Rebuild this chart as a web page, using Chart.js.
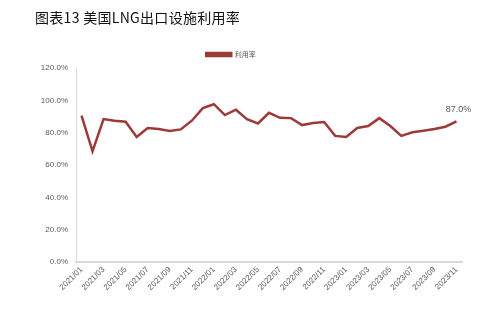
<!DOCTYPE html>
<html>
<head>
<meta charset="utf-8">
<script src="https://cdn.jsdelivr.net/npm/chart.js@4.4.0/dist/chart.umd.min.js"></script>
<style>
  html, body { margin: 0; padding: 0; background: #fff; }
  #wrap { position: relative; width: 496px; height: 324px; }
  #title {
    position: absolute; left: 35px; top: 7px;
    font-family: "Noto Sans CJK SC", sans-serif; font-size: 14px; color: #111;
    letter-spacing: 0.3px;
  }
  #chart { position: absolute; left: 0; top: 0; }
</style>
</head>
<body>
<div id="wrap">
  <canvas id="chart" width="496" height="324"></canvas>
  <div id="title">图表13 美国LNG出口设施利用率</div>
</div>
<script>
// monthly utilisation of US LNG export facilities, 2021/01 - 2023/11
const months = [
  '2021/01','2021/02','2021/03','2021/04','2021/05','2021/06','2021/07','2021/08','2021/09','2021/10','2021/11','2021/12',
  '2022/01','2022/02','2022/03','2022/04','2022/05','2022/06','2022/07','2022/08','2022/09','2022/10','2022/11','2022/12',
  '2023/01','2023/02','2023/03','2023/04','2023/05','2023/06','2023/07','2023/08','2023/09','2023/10','2023/11'
];
const utilization = [
  90.5, 68.5, 88.4, 87.4, 86.8, 77.3, 82.9, 82.3, 81.0, 82.0, 87.4, 95.2,
  97.6, 90.9, 94.2, 88.4, 85.7, 92.3, 89.2, 89.0, 84.7, 86.0, 86.6, 78.0,
  77.3, 82.9, 84.1, 89.0, 84.1, 78.0, 80.2, 81.2, 82.3, 83.7, 87.0
];
const yTicks = [0, 20, 40, 60, 80, 100, 120];

const lineColor = '#9c3a37';
const tickFont = { family: 'Liberation Sans, Arial, sans-serif', size: 8 };

// label the most recent value above its point
const lastValueLabel = {
  id: 'lastValueLabel',
  afterDatasetsDraw(chart) {
    const meta = chart.getDatasetMeta(0);
    const i = utilization.length - 1;
    const pt = meta.data[i];
    const ctx = chart.ctx;
    ctx.save();
    ctx.font = '9px Liberation Sans, Arial, sans-serif';
    ctx.fillStyle = '#595959';
    ctx.textAlign = 'center';
    ctx.textBaseline = 'bottom';
    ctx.fillText(utilization[i].toFixed(1) + '%', pt.x + 2, pt.y - 7);
    ctx.restore();
  }
};

const ctx = document.getElementById('chart').getContext('2d');
const chart = new Chart(ctx, {
  type: 'line',
  data: {
    labels: months,
    datasets: [{
      label: '利用率',
      data: utilization,
      borderColor: lineColor,
      backgroundColor: lineColor,
      borderWidth: 2.5,
      pointRadius: 0,
      tension: 0,
      fill: false
    }]
  },
  options: {
    responsive: false,
    animation: false,
    layout: { padding: { left: 0, right: 34, top: 47, bottom: 0 } },
    plugins: {
      legend: {
        display: true,
        position: 'top',
        labels: {
          boxWidth: 25,
          boxHeight: 3,
          color: '#595959',
          font: { family: 'Noto Sans CJK SC, sans-serif', size: 7 },
          padding: 4
        }
      },
      tooltip: { enabled: false }
    },
    scales: {
      x: {
        offset: true,
        grid: { display: false, drawTicks: false },
        border: { color: '#d9d9d9', width: 2 },
        ticks: {
          autoSkip: false,
          maxRotation: 45,
          minRotation: 45,
          color: '#595959',
          font: tickFont,
          padding: 3,
          callback: function(value, index) {
            return index % 2 === 0 ? months[index] : null;
          }
        },
        afterFit: function(scale) { scale.height = 62; }
      },
      y: {
        min: 0,
        max: 120,
        afterBuildTicks: function(scale) {
          scale.ticks = yTicks.map(v => ({ value: v }));
        },
        grid: { display: false, drawTicks: false },
        border: { color: '#d9d9d9', width: 1 },
        ticks: {
          color: '#595959',
          font: tickFont,
          padding: 8,
          callback: v => v.toFixed(1) + '%'
        },
        afterFit: function(scale) { scale.width = 76; }
      }
    }
  },
  plugins: [lastValueLabel]
});
console.log('chart area', chart.chartArea);
</script>
</body>
</html>
